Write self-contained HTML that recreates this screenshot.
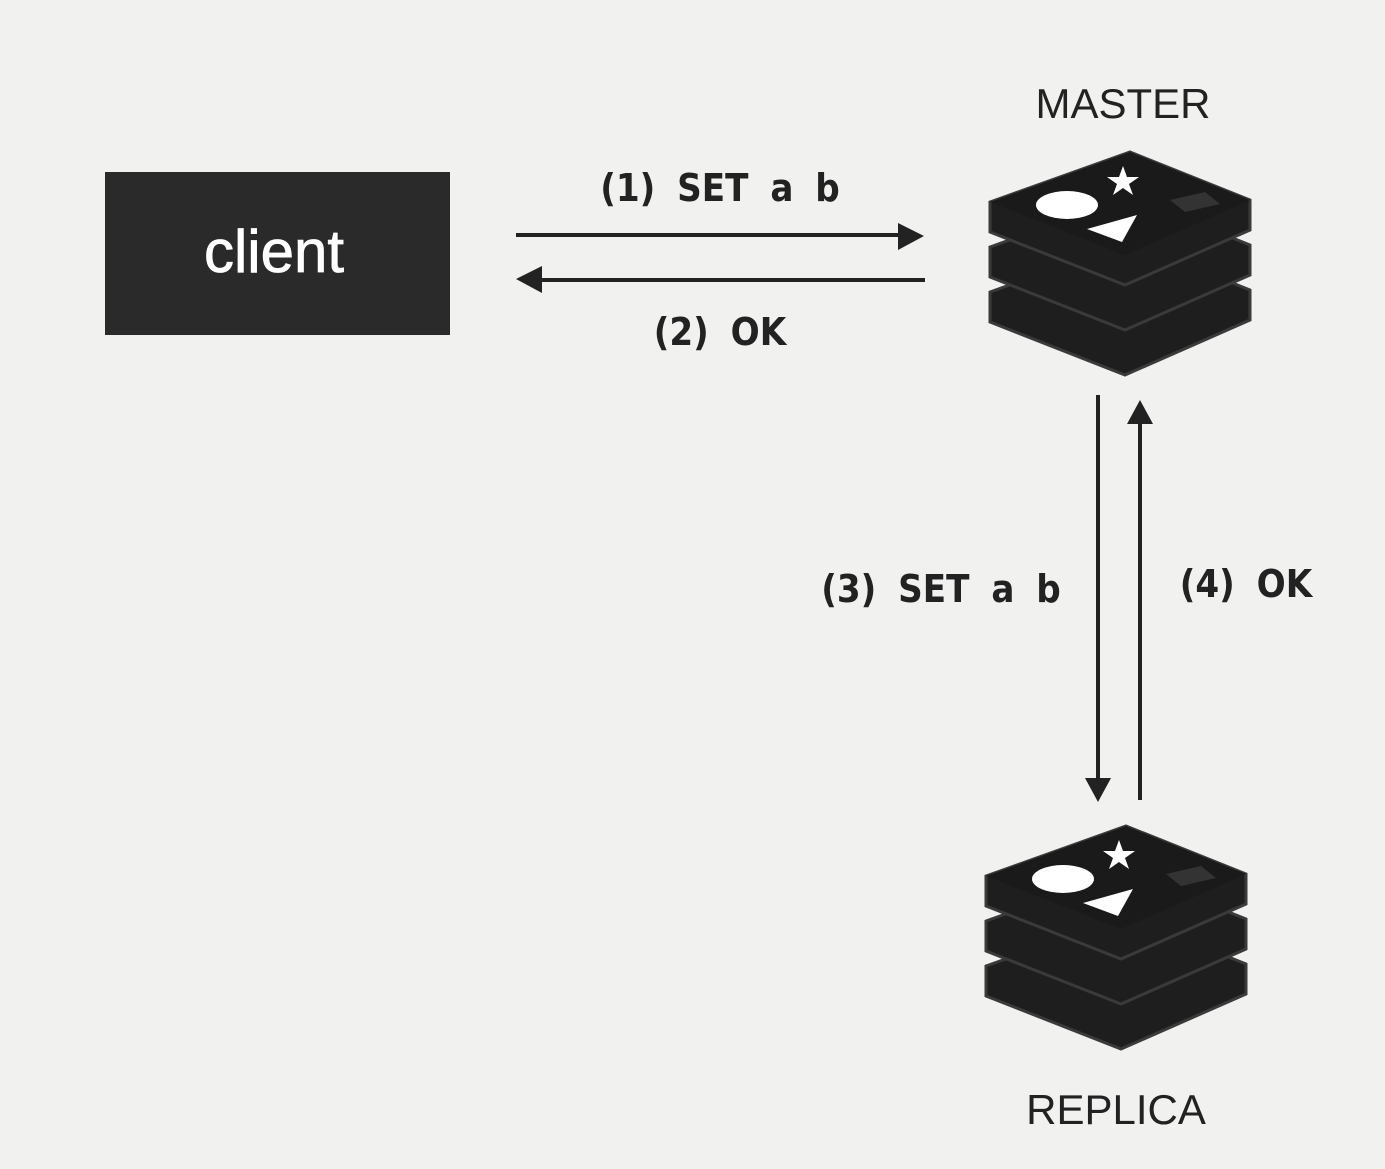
<!DOCTYPE html>
<html><head><meta charset="utf-8"><style>
html,body{margin:0;padding:0;background:#f1f1f0;}
svg{display:block}
</style></head><body>
<svg width="1385" height="1169" viewBox="0 0 1385 1169" xmlns="http://www.w3.org/2000/svg">
<defs>
<g id="redis">
  <g fill="#1e1e1e" stroke="#3a3a3a" stroke-width="3">
    <path d="M140,90 L260,138 L260,168 L135,223 L0,170 L0,140 Z"/>
    <path d="M140,45 L260,93 L260,123 L135,178 L0,125 L0,95 Z"/>
    <path d="M140,0 L260,48 L260,78 L135,133 L0,80 L0,50 Z"/>
  </g>
  <path d="M140,0 L260,48 L135,103 L0,50 Z" fill="#1a1a1a"/>
  <ellipse cx="77" cy="53" rx="31" ry="14" fill="#fff"/>
  <polygon points="133,14 137,25 149,25 139,32 143,43 133,36 123,43 127,32 117,25 129,25" fill="#fff"/>
  <polygon points="97,77 147,63 132,90" fill="#fff"/>
  <polygon points="180,48 215,40 230,52 195,60" fill="#333"/>
</g>
</defs>
<rect x="105" y="172" width="345" height="163" fill="#2a2a2a"/>
<text x="274" y="272" font-family="Liberation Sans, sans-serif" font-size="60" fill="#fff" text-anchor="middle" stroke="#fff" stroke-width="0.8">client</text>

<use href="#redis" x="990" y="152"/>
<use href="#redis" x="986" y="826"/>

<text x="1123" y="118" font-family="Liberation Sans, sans-serif" font-size="42" fill="#222" text-anchor="middle">MASTER</text>
<text x="1116" y="1124" font-family="Liberation Sans, sans-serif" font-size="42" fill="#222" text-anchor="middle">REPLICA</text>

<g stroke="#222" stroke-width="4">
  <line x1="516" y1="235" x2="900" y2="235"/>
  <line x1="540" y1="280" x2="925" y2="280"/>
  <line x1="1098" y1="395" x2="1098" y2="780"/>
  <line x1="1140" y1="422" x2="1140" y2="800"/>
</g>
<g fill="#222">
  <polygon points="898,223 924,236 898,250"/>
  <polygon points="542,266 516,279 542,293"/>
  <polygon points="1085,778 1098,802 1111,778"/>
  <polygon points="1127,424 1140,400 1153,424"/>
</g>
<g font-family="DejaVu Sans Condensed, DejaVu Sans, sans-serif" font-size="38" font-weight="bold" fill="#222">
  <text x="720" y="201" text-anchor="middle" word-spacing="10">(1) SET a b</text>
  <text x="720" y="345" text-anchor="middle" word-spacing="10">(2) OK</text>
  <text x="941" y="602" text-anchor="middle" word-spacing="10">(3) SET a b</text>
  <text x="1246" y="597" text-anchor="middle" word-spacing="10">(4) OK</text>
</g>
</svg>
</body></html>
